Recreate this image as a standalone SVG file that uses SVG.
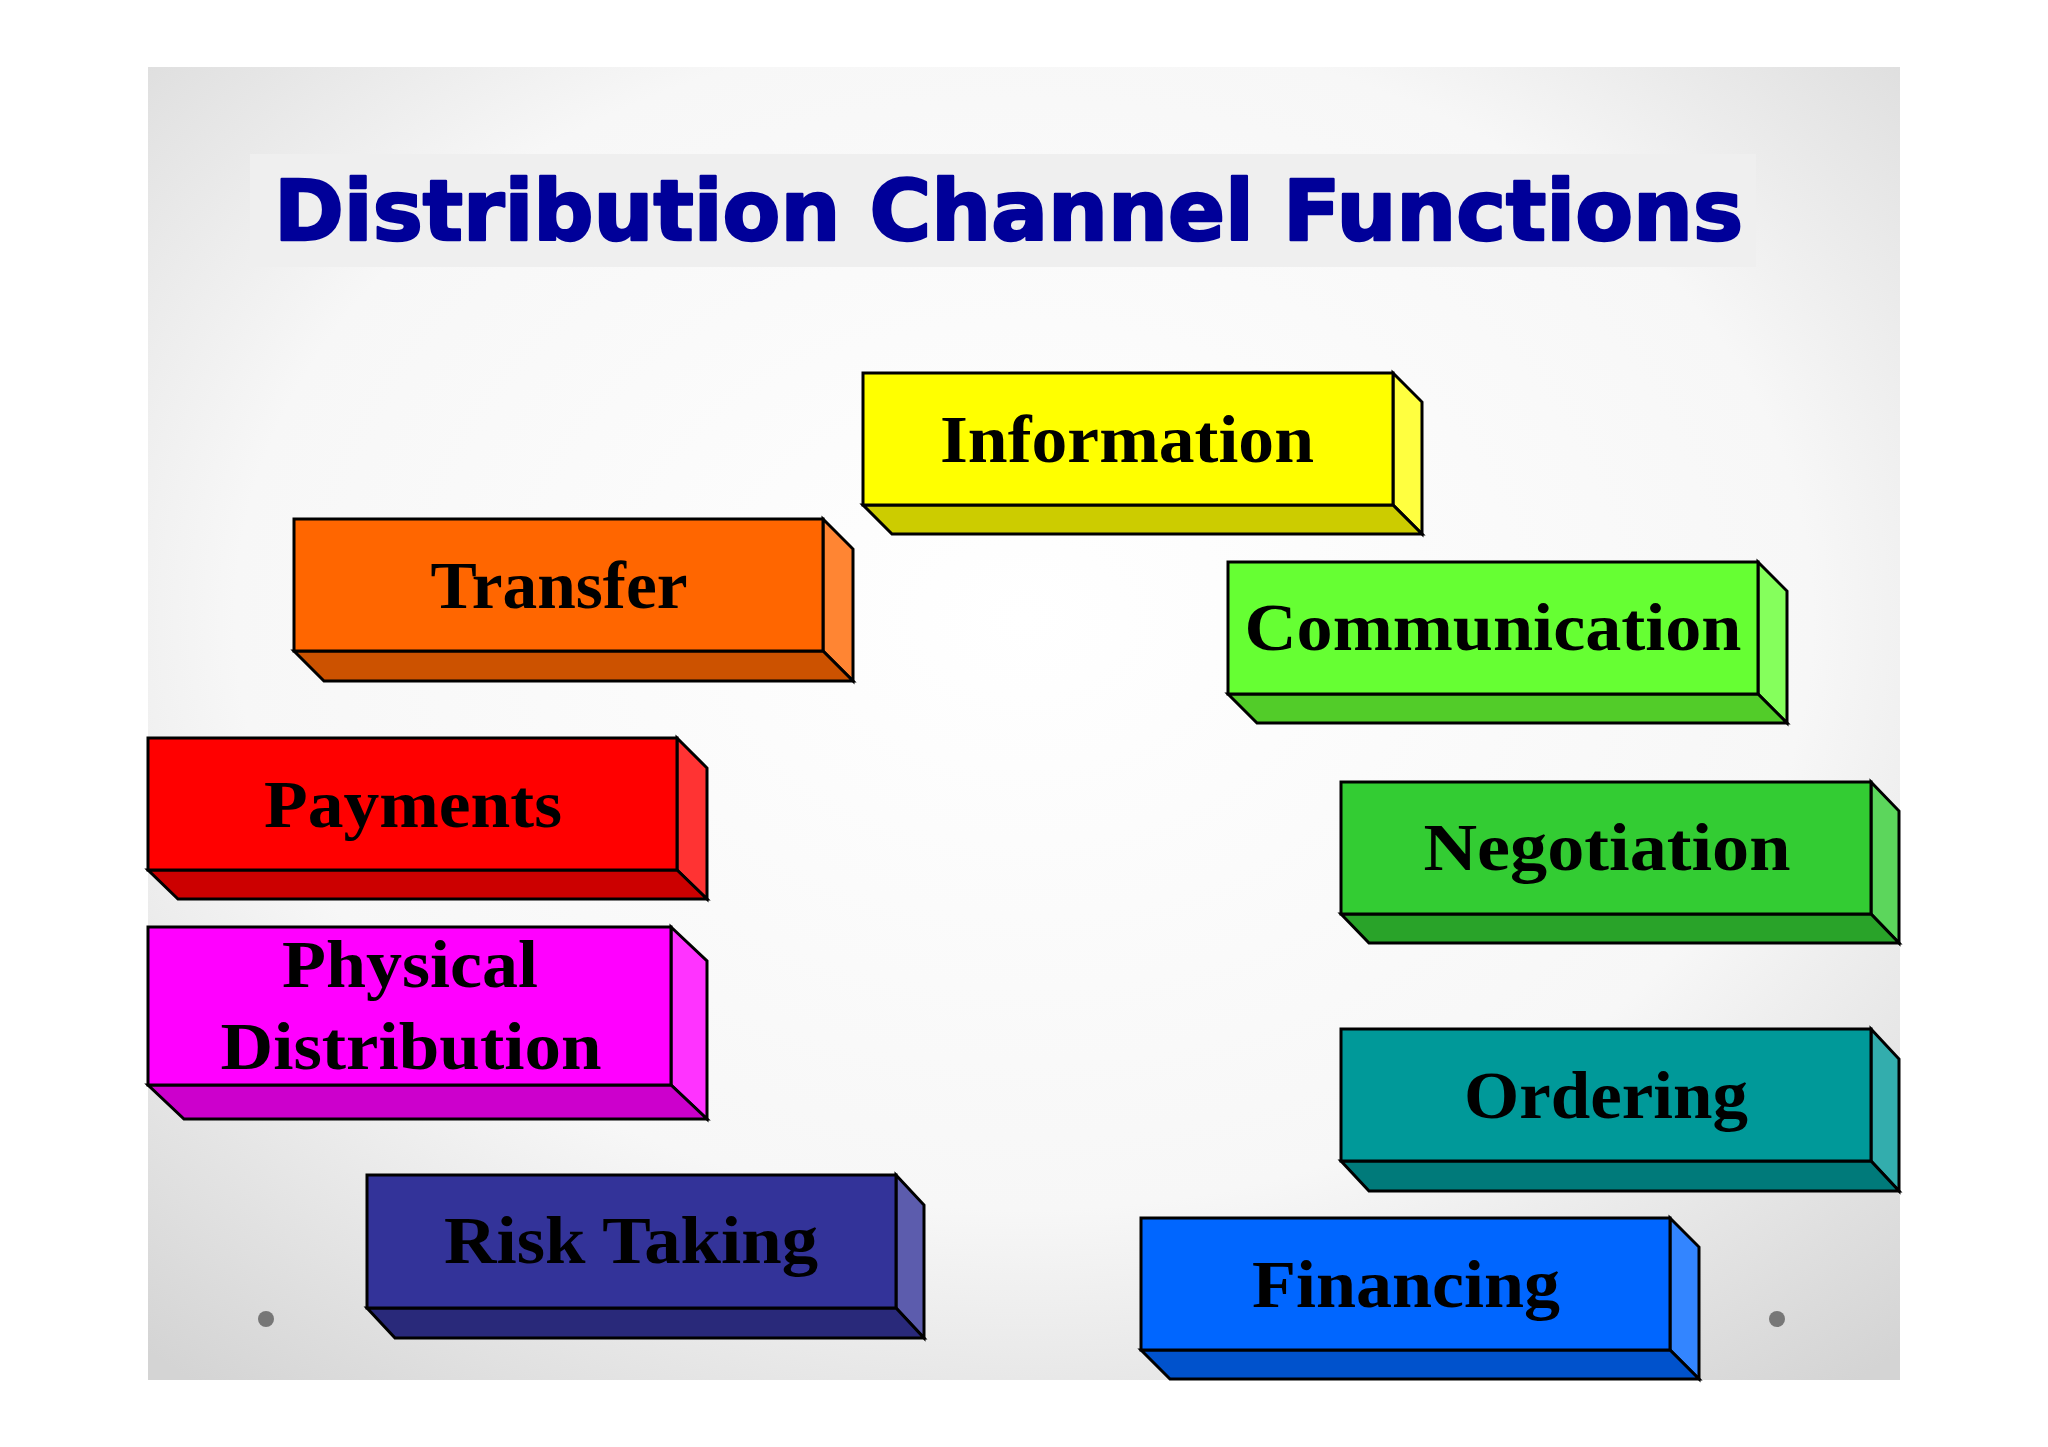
<svg xmlns="http://www.w3.org/2000/svg" width="2048" height="1447" viewBox="0 0 2048 1447">
<defs>
<radialGradient id="bg" cx="0.5" cy="0.42" r="0.75">
<stop offset="0" stop-color="#ffffff"/>
<stop offset="0.6" stop-color="#f7f7f7"/>
<stop offset="1" stop-color="#d4d4d4"/>
</radialGradient>
<style>
.edge{stroke:#000;stroke-width:3;stroke-linejoin:miter}
.lbl{font-family:"Liberation Serif","Times New Roman",serif;font-weight:bold;font-size:68px;fill:#000;text-anchor:middle}
.title{font-family:"DejaVu Sans","Liberation Sans",sans-serif;font-weight:bold;font-size:84px;fill:#000099;stroke:#000099;stroke-width:2.5;stroke-linejoin:round}
.dot{fill:#777777}
</style>
</defs>
<rect x="0" y="0" width="2048" height="1447" fill="#ffffff"/>
<rect x="148" y="67" width="1752" height="1313" fill="url(#bg)"/>
<g id="title">
<rect x="250" y="154" width="1506" height="113" fill="#efefef"/>
<text class="title" x="274" y="240" textLength="1469" lengthAdjust="spacingAndGlyphs">Distribution Channel Functions</text>
</g>
<g id="connectors"></g>
<g id="information">
<polygon class="edge" fill="#ffff40" points="1393,373 1422,402 1422,534 1393,505"/>
<polygon class="edge" fill="#cccc00" points="863,505 1393,505 1422,534 892,534"/>
<rect class="edge" fill="#ffff00" x="863" y="373" width="530" height="132"/>
<text class="lbl" x="1127" y="462" textLength="374" lengthAdjust="spacingAndGlyphs">Information</text>
</g>
<g id="transfer">
<polygon class="edge" fill="#ff8533" points="823,519 853,549 853,681 823,651"/>
<polygon class="edge" fill="#cc5200" points="294,651 823,651 853,681 324,681"/>
<rect class="edge" fill="#ff6600" x="294" y="519" width="529" height="132"/>
<text class="lbl" x="559" y="608" textLength="257" lengthAdjust="spacingAndGlyphs">Transfer</text>
</g>
<g id="communication">
<polygon class="edge" fill="#85ff5c" points="1758,562 1787,591 1787,723 1758,694"/>
<polygon class="edge" fill="#52cc29" points="1228,694 1758,694 1787,723 1257,723"/>
<rect class="edge" fill="#66ff33" x="1228" y="562" width="530" height="132"/>
<text class="lbl" x="1493" y="650" textLength="497" lengthAdjust="spacingAndGlyphs">Communication</text>
</g>
<g id="payments">
<polygon class="edge" fill="#ff3333" points="677,738 707,768 707,899 677,870"/>
<polygon class="edge" fill="#cc0000" points="148,870 677,870 707,899 178,899"/>
<rect class="edge" fill="#ff0000" x="148" y="738" width="529" height="132"/>
<text class="lbl" x="413" y="827" textLength="298" lengthAdjust="spacingAndGlyphs">Payments</text>
</g>
<g id="physical-distribution">
<polygon class="edge" fill="#ff33ff" points="671,927 707,961 707,1119 671,1085"/>
<polygon class="edge" fill="#cc00cc" points="148,1085 671,1085 707,1119 184,1119"/>
<rect class="edge" fill="#ff00ff" x="148" y="927" width="523" height="158"/>
<text class="lbl" x="410" y="987" textLength="256" lengthAdjust="spacingAndGlyphs">Physical</text>
<text class="lbl" x="411" y="1069" textLength="381" lengthAdjust="spacingAndGlyphs">Distribution</text>
</g>
<g id="negotiation">
<polygon class="edge" fill="#5cd65c" points="1871,782 1899,811 1899,943 1871,914"/>
<polygon class="edge" fill="#29a329" points="1341,914 1871,914 1899,943 1369,943"/>
<rect class="edge" fill="#33cc33" x="1341" y="782" width="530" height="132"/>
<text class="lbl" x="1607" y="870" textLength="367" lengthAdjust="spacingAndGlyphs">Negotiation</text>
</g>
<g id="ordering">
<polygon class="edge" fill="#33adad" points="1871,1029 1899,1059 1899,1191 1871,1161"/>
<polygon class="edge" fill="#007a7a" points="1341,1161 1871,1161 1899,1191 1369,1191"/>
<rect class="edge" fill="#009999" x="1341" y="1029" width="530" height="132"/>
<text class="lbl" x="1606" y="1118" textLength="284" lengthAdjust="spacingAndGlyphs">Ordering</text>
</g>
<g id="risk-taking">
<polygon class="edge" fill="#5c5cad" points="896,1175 924,1205 924,1338 896,1308"/>
<polygon class="edge" fill="#29297a" points="367,1308 896,1308 924,1338 395,1338"/>
<rect class="edge" fill="#333399" x="367" y="1175" width="529" height="133"/>
<text class="lbl" x="631" y="1263" textLength="374" lengthAdjust="spacingAndGlyphs">Risk Taking</text>
</g>
<g id="financing">
<polygon class="edge" fill="#3385ff" points="1670,1218 1699,1247 1699,1379 1670,1350"/>
<polygon class="edge" fill="#0052cc" points="1141,1350 1670,1350 1699,1379 1170,1379"/>
<rect class="edge" fill="#0066ff" x="1141" y="1218" width="529" height="132"/>
<text class="lbl" x="1406" y="1307" textLength="308" lengthAdjust="spacingAndGlyphs">Financing</text>
</g>
<circle class="dot" cx="266" cy="1319" r="8"/>
<circle class="dot" cx="1777" cy="1319" r="8"/>
</svg>
